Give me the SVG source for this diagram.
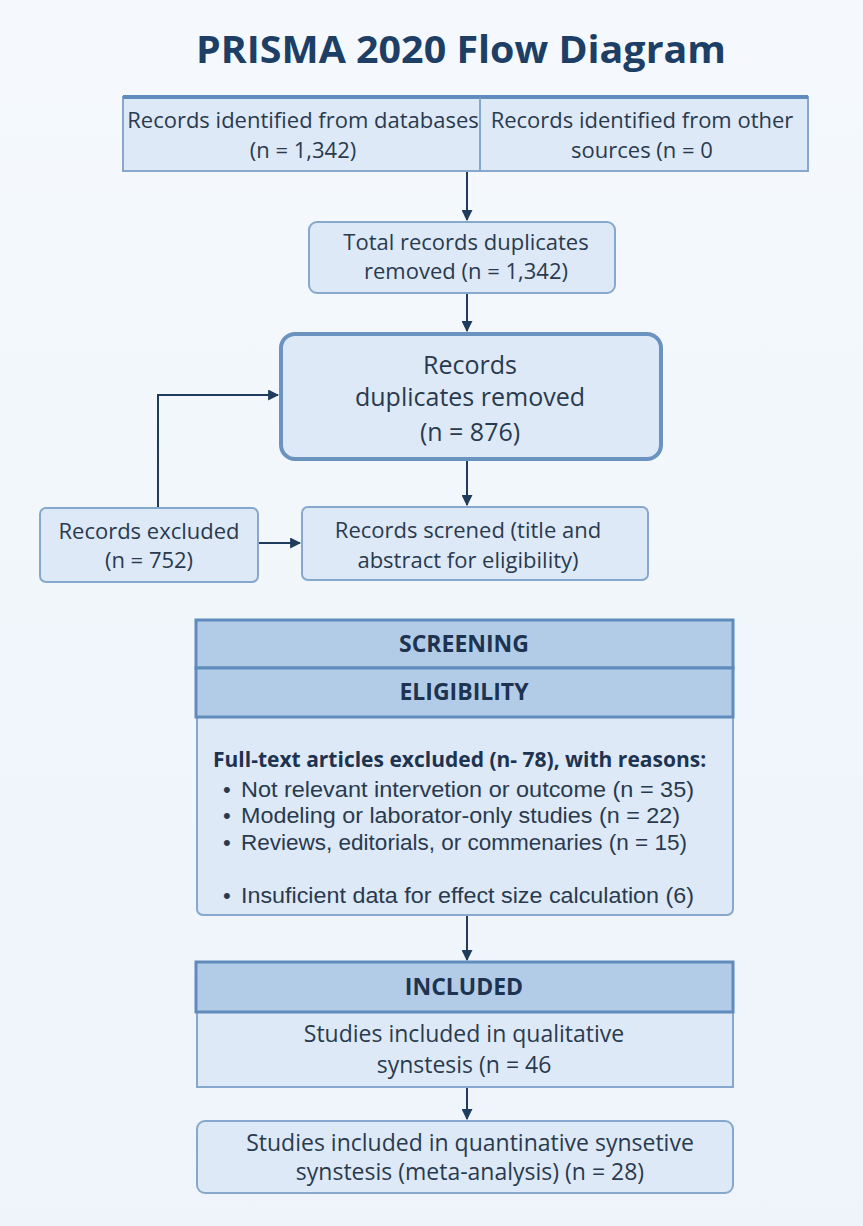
<svg xmlns="http://www.w3.org/2000/svg" width="863" height="1226" viewBox="0 0 863 1226">
<defs>
<linearGradient id="bg" x1="0" y1="0" x2="0" y2="1"><stop offset="0" stop-color="#f5f9fd"/><stop offset="1" stop-color="#eef4fa"/></linearGradient>
<marker id="arr" viewBox="0 0 10 10" refX="9" refY="5" markerWidth="11" markerHeight="11" markerUnits="userSpaceOnUse" orient="auto"><path d="M0,0 L10,5 L0,10 z" fill="#1f3c5c"/></marker>
<style>
.box{fill:#dde9f6;stroke:#86a8cc;stroke-width:2}
.hdr{fill:#b2cce8;stroke:#5f8cbc;stroke-width:3}
.t{font-family:"Open Sans","Liberation Sans",sans-serif;font-size:22px;fill:#2a3a4e;text-anchor:middle}
.t23{font-size:23px}
.t25{font-size:25px}
.b{font-family:"Open Sans","Liberation Sans",sans-serif;font-size:23px;font-weight:bold;fill:#1d3350;text-anchor:middle}
.l{font-family:"Liberation Sans",Arial,sans-serif;font-size:22px;fill:#2a3a4e}
.lb{font-family:"Open Sans","Liberation Sans",sans-serif;font-size:21px;font-weight:bold;fill:#1d3350}
.c{fill:none;stroke:#1f3c5c;stroke-width:2;marker-end:url(#arr)}
</style>
</defs>
<rect width="863" height="1226" fill="url(#bg)"/>
<text x="461" y="63" font-family="Open Sans,Liberation Sans,sans-serif" font-size="37" font-weight="bold" fill="#1d3f66" text-anchor="middle" textLength="530" lengthAdjust="spacingAndGlyphs">PRISMA 2020 Flow Diagram</text>

<g id="connectors">
<line class="c" x1="467" y1="172" x2="467" y2="220"/>
<line class="c" x1="467" y1="294" x2="467" y2="331"/>
<line class="c" x1="467" y1="461" x2="467" y2="505"/>
<line class="c" x1="259" y1="543" x2="300" y2="543"/>
<polyline class="c" points="158,507 158,395 278,395"/>
<line class="c" x1="467" y1="916" x2="467" y2="960"/>
<line class="c" x1="467" y1="1088" x2="467" y2="1119"/>
</g>

<g id="identified">
<rect class="box" x="123" y="97" width="685" height="74"/>
<line x1="123" y1="97" x2="808" y2="97" stroke="#5f8cbc" stroke-width="4"/>
<line x1="480" y1="98" x2="480" y2="171" stroke="#86a8cc" stroke-width="2"/>
<text class="t" x="303" y="128">Records identified from databases</text>
<text class="t" x="303" y="158">(n = 1,342)</text>
<text class="t" x="642" y="128">Records identified from other</text>
<text class="t" x="642" y="158">sources (n = 0</text>
</g>

<g id="total">
<rect class="box" x="309" y="222" width="306" height="71" rx="8"/>
<text class="t" x="466" y="250">Total records duplicates</text>
<text class="t" x="466" y="279">removed (n = 1,342)</text>
</g>

<g id="records">
<rect x="281" y="334" width="380" height="125" rx="14" fill="#dde9f6" stroke="#6b93c0" stroke-width="4"/>
<text class="t t25" x="470" y="374">Records</text>
<text class="t t25" x="470" y="406">duplicates removed</text>
<text class="t t25" x="470" y="441">(n = 876)</text>
</g>

<g id="excluded">
<rect class="box" x="40" y="508" width="218" height="74" rx="6"/>
<text class="t" x="149" y="539">Records excluded</text>
<text class="t" x="149" y="568">(n = 752)</text>
</g>

<g id="screened">
<rect class="box" x="302" y="507" width="346" height="73" rx="6"/>
<text class="t" x="468" y="538">Records screned (title and</text>
<text class="t" x="468" y="568">abstract for eligibility)</text>
</g>

<g id="eligibility">
<rect class="box" x="197" y="620" width="536" height="295" rx="6"/>
<rect class="hdr" x="196" y="620" width="537" height="48"/>
<rect class="hdr" x="196" y="668" width="537" height="49"/>
<text class="b" x="464" y="652">SCREENING</text>
<text class="b" x="464" y="700">ELIGIBILITY</text>
<text class="lb" x="213" y="767">Full-text articles excluded (n- 78), with reasons:</text>
<text class="l" x="223" y="797">•</text>
<text class="l" x="241" y="797" textLength="453" lengthAdjust="spacingAndGlyphs">Not relevant intervetion or outcome (n = 35)</text>
<text class="l" x="223" y="823">•</text>
<text class="l" x="241" y="823" textLength="439" lengthAdjust="spacingAndGlyphs">Modeling or laborator-only studies (n = 22)</text>
<text class="l" x="223" y="850">•</text>
<text class="l" x="241" y="850" textLength="446" lengthAdjust="spacingAndGlyphs">Reviews, editorials, or commenaries (n = 15)</text>
<text class="l" x="223" y="903">•</text>
<text class="l" x="241" y="903" textLength="453" lengthAdjust="spacingAndGlyphs">Insuficient data for effect size calculation (6)</text>
</g>

<g id="included">
<rect class="box" x="197" y="962" width="536" height="125"/>
<rect class="hdr" x="196" y="962" width="537" height="50"/>
<text class="b" x="464" y="995">INCLUDED</text>
<text class="t t23" x="464" y="1042">Studies included in qualitative</text>
<text class="t t23" x="464" y="1073">synstesis (n = 46</text>
</g>

<g id="quantitative">
<rect class="box" x="197" y="1121" width="536" height="72" rx="8"/>
<text class="t t23" x="470" y="1151">Studies included in quantinative synsetive</text>
<text class="t t23" x="470" y="1180">synstesis (meta-analysis) (n = 28)</text>
</g>
</svg>
